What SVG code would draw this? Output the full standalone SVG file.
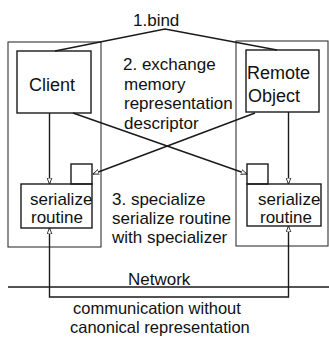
<svg xmlns="http://www.w3.org/2000/svg" width="329" height="337" viewBox="0 0 329 337">
<style>
  .t{font-family:"Liberation Sans",Arial,sans-serif;font-size:17px;fill:#111}
  .big{font-size:18px}
  .sm{font-size:16.5px}
  .box{fill:none;stroke:#1a1a1a;stroke-width:1.4}
  .outer{fill:none;stroke:#333;stroke-width:1.1}
  .ln{fill:none;stroke:#1a1a1a;stroke-width:1.4}
</style>
<defs>
  <marker id="ah" viewBox="0 0 10 10" refX="10" refY="5" markerWidth="6" markerHeight="6" markerUnits="userSpaceOnUse" orient="auto-start-reverse">
    <path d="M0,1 L10,5 L0,9 z" fill="#fff" stroke="#1a1a1a" stroke-width="1.4"/>
  </marker>
</defs>
<rect width="329" height="337" fill="#fff"/>
<g id="client-host"><rect class="outer" x="8" y="42" width="93" height="205"/></g>
<g id="remote-host"><rect class="outer" x="236" y="41" width="92" height="205"/></g>
<g id="client"><rect class="box" x="17" y="51" width="74" height="62"/><text class="t big" x="29" y="91">Client</text></g>
<g id="remote-object"><rect class="box" x="246" y="50" width="73" height="62"/><text class="t big" x="247" y="79">Remote</text><text class="t big" x="248" y="102">Object</text></g>
<g id="serialize-left"><rect class="box" x="21" y="184" width="71" height="44"/><rect class="box" x="71" y="164" width="21" height="20"/><text class="t" x="30" y="205">serialize</text><text class="t" x="31" y="223">routine</text></g>
<g id="serialize-right"><rect class="box" x="247" y="184" width="74" height="42"/><rect class="box" x="247" y="164" width="21" height="20"/><text class="t" x="258" y="205">serialize</text><text class="t" x="260" y="223">routine</text></g>
<g id="network"><line class="ln" x1="8" y1="287" x2="329" y2="287" stroke-width="1.1"/><text class="t" x="128" y="285">Network</text></g>
<g id="connectors">
  <polyline class="ln" points="55,51 165,29 277,50"/>
  <line class="ln" x1="49.5" y1="113" x2="49.5" y2="184" marker-end="url(#ah)"/>
  <line class="ln" x1="288.5" y1="112" x2="288.5" y2="184" marker-end="url(#ah)"/>
  <line class="ln" x1="73" y1="113" x2="247" y2="174" marker-end="url(#ah)"/>
  <line class="ln" x1="255" y1="113" x2="93" y2="174" marker-end="url(#ah)"/>
  <polyline class="ln" points="49.5,228 49.5,297 288.5,297 288.5,226" marker-start="url(#ah)" marker-end="url(#ah)"/>
</g>
<g id="labels">
  <text class="t" x="133" y="26">1.bind</text>
  <text class="t" x="123" y="70">2. exchange</text>
  <text class="t" x="124" y="90">memory</text>
  <text class="t" x="124" y="109">representation</text>
  <text class="t" x="124" y="129">descriptor</text>
  <text class="t" x="112" y="205">3. specialize</text>
  <text class="t" x="112" y="224">serialize routine</text>
  <text class="t" x="112" y="243">with specializer</text>
  <text class="t sm" x="73" y="314">communication without</text>
  <text class="t sm" x="70" y="333">canonical representation</text>
</g>
</svg>
